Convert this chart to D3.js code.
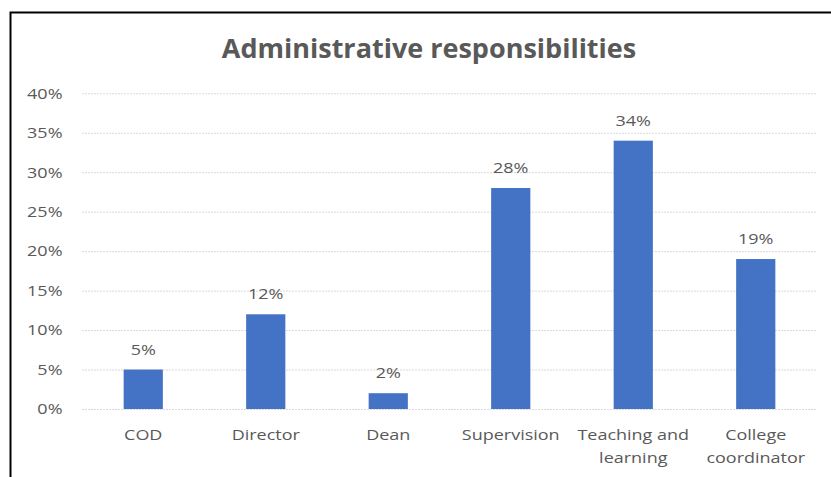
<!DOCTYPE html>
<html>
<head>
<meta charset="utf-8">
<script src="https://cdn.jsdelivr.net/npm/d3@7"></script>
<style>
  html, body { margin: 0; padding: 0; background: #fff; }
  svg { display: block; }
  text { font-family: "Open Sans", "Noto Sans", sans-serif; }
</style>
</head>
<body>
<svg id="chart" width="831" height="477"></svg>
<script>
// Share of respondents holding each administrative responsibility
const categories = ["COD", "Director", "Dean", "Supervision", "Teaching and learning", "College coordinator"];
const categoryLines = [["COD"], ["Director"], ["Dean"], ["Supervision"], ["Teaching and", "learning"], ["College", "coordinator"]];
const values = [5, 12, 2, 28, 34, 19];
const yTicks = [0, 5, 10, 15, 20, 25, 30, 35, 40];

const svg = d3.select("#chart");
const plot = { left: 82, right: 817, top: 93.3, bottom: 409 };
const textColor = "#595959";
const labelSize = 15;
const stretch = 1.2;   // labels are set slightly wide

// Outer frame of the chart
svg.append("rect")
  .attr("x", 10.5).attr("y", 12.5)
  .attr("width", 840).attr("height", 480)
  .attr("fill", "#fff").attr("stroke", "#000").attr("stroke-width", 2);

// Title
svg.append("text")
  .attr("x", 429).attr("y", 58)
  .attr("text-anchor", "middle")
  .attr("font-size", 27).attr("font-weight", 700)
  .attr("fill", textColor)
  .text("Administrative responsibilities");

const x = d3.scaleBand().domain(categories).range([plot.left, plot.right]).padding(0);
const y = d3.scaleLinear().domain([0, 40]).range([plot.bottom, plot.top]);
const barW = x.bandwidth() * 0.32;
const cx = i => x(categories[i]) + x.bandwidth() / 2;

// Horizontal gridlines and y labels
const yAxis = d3.axisLeft(y).tickValues(yTicks).tickFormat(d => d + "%")
  .tickSize(-(plot.right - plot.left)).tickPadding(0);
const gy = svg.append("g").attr("transform", `translate(${plot.left},0)`).call(yAxis);
gy.select(".domain").remove();
gy.selectAll(".tick line").attr("stroke", "#d9d9d9").attr("stroke-width", 1)
  .attr("stroke-dasharray", "2,1");
gy.selectAll(".tick text")
  .attr("fill", textColor).attr("font-size", labelSize)
  .attr("font-family", "\"Open Sans\", \"Noto Sans\", sans-serif")
  .attr("x", 0)
  .attr("transform", `translate(-19.5,0) scale(${stretch},1)`);

// Bars
svg.append("g").selectAll("rect").data(values).join("rect")
  .attr("x", (d, i) => cx(i) - barW / 2)
  .attr("y", d => y(d))
  .attr("width", barW)
  .attr("height", d => y(0) - y(d))
  .attr("fill", "#4472C4");

// Value labels
svg.append("g").selectAll("text").data(values).join("text")
  .attr("transform", (d, i) => `translate(${cx(i)},${y(d) - 15}) scale(${stretch},1)`)
  .attr("text-anchor", "middle")
  .attr("font-size", labelSize).attr("fill", textColor)
  .text(d => d + "%");

// Category labels (wrapped onto two lines where needed)
const gx = svg.append("g").selectAll("text").data(categoryLines).join("text")
  .attr("transform", (d, i) => `translate(${cx(i)},440) scale(${stretch},1)`)
  .attr("text-anchor", "middle")
  .attr("font-size", labelSize).attr("fill", textColor);
gx.each(function(lines) {
  const t = d3.select(this);
  lines.forEach((ln, j) => {
    t.append("tspan")
      .attr("x", 0)
      .attr("dy", j === 0 ? 0 : 23)
      .text(ln);
  });
});
</script>
</body>
</html>
